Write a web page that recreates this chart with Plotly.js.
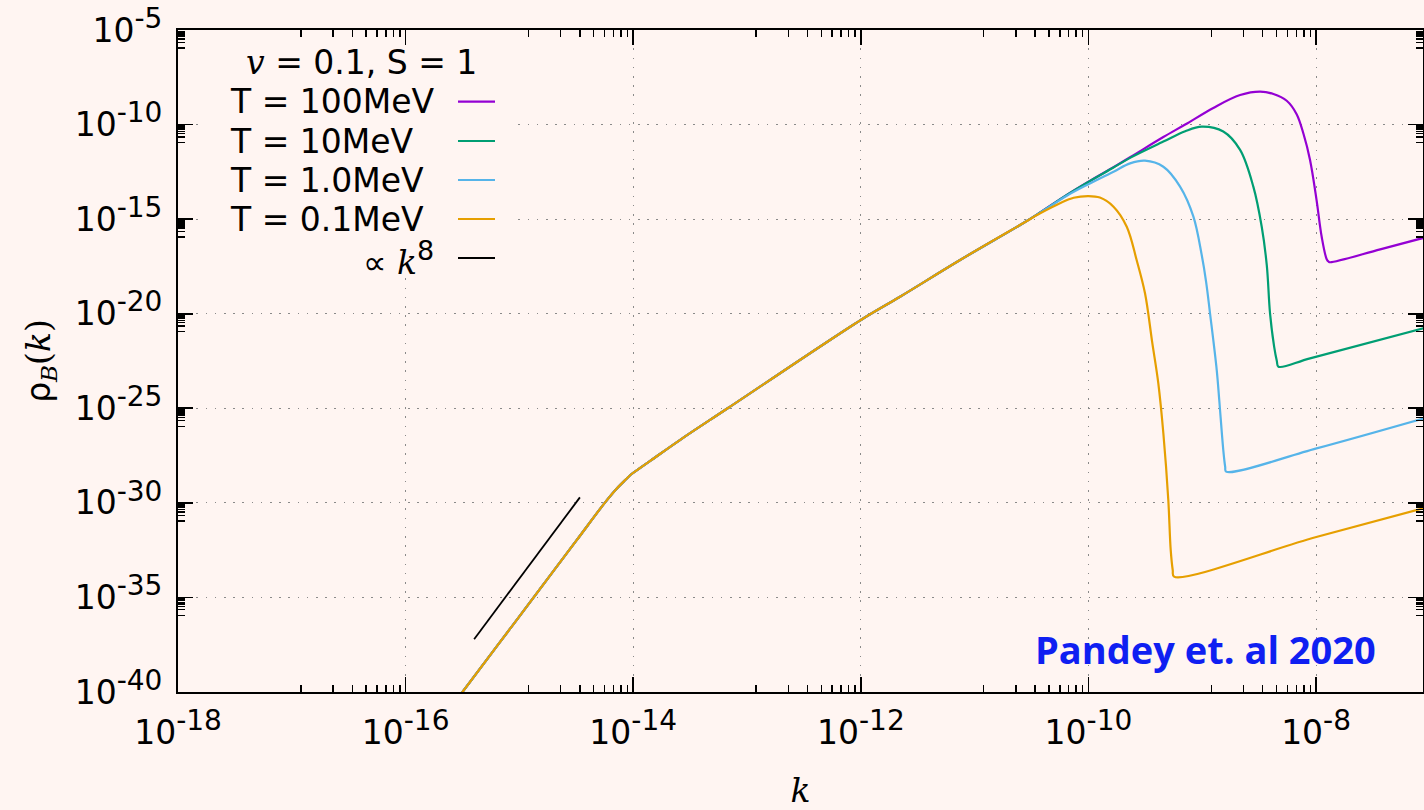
<!DOCTYPE html>
<html><head><meta charset="utf-8">
<script src="https://cdn.plot.ly/plotly-3.0.1.min.js"></script>
<style>html,body{margin:0;padding:0;background:#fff5f2;}</style>
</head><body><div id="chart" style="width:1424px;height:810px;"></div>
<script>
// shared low-k trunk (all four curves coincide here)
const kTrunk   = [2.51e-16, 3.16e-16, 1.0e-15, 3.16e-15, 5.62e-15, 7.08e-15, 8.32e-15, 9.55e-15, 1.12e-14, 1.41e-14, 2.57e-14, 6.76e-14, 1.0e-12, 2.21e-12, 7.45e-12, 2.66e-11];
const rhoTrunk = [1.58e-41, 1.0e-40, 1.0e-36, 1.0e-32, 1.0e-30, 5.25e-30, 1.41e-29, 3.16e-29, 6.31e-29, 1.66e-28, 2.09e-27, 1.0e-25, 4.68e-21, 7.94e-20, 6.92e-18, 6.03e-16];

// T = 100 MeV
const k100   = [3.80e-11, 6.46e-11, 1.0e-10, 1.66e-10, 2.32e-10, 4.55e-10, 7.08e-10, 1.25e-9, 2.15e-9, 3.22e-9, 4.22e-9, 5.52e-9, 6.75e-9, 7.76e-9, 8.85e-9, 1.01e-8, 1.12e-8, 1.24e-8, 1.29e-8, 1.33e-8, 3.66e-8, 1.0e-7];
const rho100 = [2.34e-15, 1.91e-14, 9.55e-14, 5.62e-13, 1.86e-12, 2.19e-11, 1.0e-10, 7.59e-10, 3.63e-9, 5.50e-9, 4.17e-9, 1.82e-9, 3.55e-10, 3.16e-11, 1.35e-12, 1.02e-14, 1.17e-16, 7.6e-18, 5.62e-18, 5.25e-18, 2.51e-17, 1.26e-16];

// T = 10 MeV
const k10   = [3.80e-11, 6.46e-11, 1.0e-10, 1.66e-10, 2.32e-10, 4.55e-10, 7.08e-10, 9.89e-10, 1.53e-9, 2.15e-9, 2.81e-9, 3.33e-9, 3.69e-9, 3.94e-9, 4.28e-9, 4.52e-9, 4.67e-9, 8.85e-9, 1.0e-7];
const rho10 = [2.34e-15, 1.91e-14, 9.33e-14, 5.37e-13, 1.74e-12, 1.26e-11, 4.47e-11, 7.76e-11, 4.27e-11, 4.57e-12, 5.25e-14, 3.98e-16, 3.55e-18, 1.05e-20, 1.82e-22, 3.16e-23, 1.58e-23, 4.37e-23, 2.09e-21];

// T = 1.0 MeV
const k1   = [3.80e-11, 6.46e-11, 1.0e-10, 1.66e-10, 2.32e-10, 3.14e-10, 4.55e-10, 6.38e-10, 8.36e-10, 9.89e-10, 1.08e-9, 1.17e-9, 1.34e-9, 1.41e-9, 1.53e-9, 1.59e-9, 1.62e-9, 1.01e-8, 1.0e-7];
const rho1 = [2.29e-15, 1.74e-14, 7.08e-14, 3.24e-13, 8.91e-13, 1.23e-12, 5.89e-13, 5.25e-14, 1.35e-15, 1.26e-17, 5.01e-19, 1.05e-20, 1.05e-23, 2.75e-25, 6.17e-28, 7.94e-29, 4.47e-29, 7.59e-28, 3.63e-26];

// T = 0.1 MeV
const k01   = [3.80e-11, 5.62e-11, 7.41e-11, 1.0e-10, 1.26e-10, 1.66e-10, 2.17e-10, 2.65e-10, 3.14e-10, 3.63e-10, 4.11e-10, 4.55e-10, 5.03e-10, 5.28e-10, 5.50e-10, 5.65e-10, 9.86e-9, 1.0e-7];
const rho01 = [2.09e-15, 6.92e-15, 1.35e-14, 1.66e-14, 1.38e-14, 4.57e-15, 3.98e-16, 6.92e-18, 1.20e-19, 3.16e-22, 2.09e-24, 4.79e-27, 1.41e-30, 3.24e-33, 2.82e-34, 1.26e-34, 1.51e-32, 6.46e-31];

// reference power law  ∝ k^8
const kRef   = [4.0e-16, 3.4e-15];
const rhoRef = [6.2e-38, 1.95e-30];

const seriesNames  = ['T = 100MeV', 'T = 10MeV', 'T = 1.0MeV', 'T = 0.1MeV'];
const seriesColors = ['#9400d3', '#009e73', '#56b4e9', '#e69f00'];
const refName = '∝ <span style="font-family:\'DejaVu Serif\'"><i>k</i></span><sup><span style="font-size:27px">8</span></sup>';
const legendTitle = '<span style="font-family:\'DejaVu Serif\'"><i>v</i></span> = 0.1, S = 1';
const creditText = '<b>Pandey et. al 2020</b>';

const xTickVals = [1e-18, 1e-16, 1e-14, 1e-12, 1e-10, 1e-8];
const xTickExp  = ['-18', '-16', '-14', '-12', '-10', '-8'];
const yTickVals = [1e-40, 1e-35, 1e-30, 1e-25, 1e-20, 1e-15, 1e-10, 1e-5];
const yTickExp  = ['-40', '-35', '-30', '-25', '-20', '-15', '-10', '-5'];

const supLabel = e => '10<sup><span style="font-size:28px">' + e + '</span></sup>';

// gnuplot-style minor tics: linear subdivisions between major tics
function minorBetween(majors) {
  const out = [];
  for (let i = 0; i + 1 < majors.length; i++) {
    const a = majors[i], b = majors[i + 1];
    for (let m = 1; m <= 8; m++) out.push(a + m * (b - a) / 9);
  }
  return out;
}

const tailsK = [k100, k10, k1, k01];
const tailsR = [rho100, rho10, rho1, rho01];
const traces = [];
for (let i = 0; i < 4; i++) {
  traces.push({
    x: kTrunk.concat(tailsK[i]), y: rhoTrunk.concat(tailsR[i]),
    type: 'scatter', mode: 'lines', name: seriesNames[i],
    line: {color: seriesColors[i], width: 2.2, shape: 'spline', smoothing: 1},
    showlegend: false, hoverinfo: 'skip'
  });
}
traces.push({x: kRef, y: rhoRef, type: 'scatter', mode: 'lines', name: 'k8',
  line: {color: '#000000', width: 1.8}, showlegend: false, hoverinfo: 'skip'});

const font = {family: 'DejaVu Sans', size: 33, color: '#000'};
const bg = '#fff5f2';
const PL = 178, PR = 1423, PT = 30, PB = 692;
const px = x => (x - PL) / (PR - PL);
const py = y => (PB - y) / (PB - PT);

const rowsY = [101.7, 141, 180, 219, 258];
const shapes = [{type: 'rect', xref: 'paper', yref: 'paper', x0: px(200), x1: px(515), y0: py(275), y1: py(46),
  fillcolor: bg, line: {width: 0}, layer: 'above'}];
const annotations = [{xref: 'paper', yref: 'paper', x: px(361), y: py(63), xanchor: 'center', yanchor: 'middle',
  text: legendTitle, showarrow: false, font: font}];
const legendColors = seriesColors.concat(['#000000']);
for (let i = 0; i < 5; i++) {
  shapes.push({type: 'line', xref: 'paper', yref: 'paper', x0: px(458), x1: px(495), y0: py(rowsY[i]), y1: py(rowsY[i]),
    line: {color: legendColors[i], width: i < 4 ? 2.2 : 1.8}, layer: 'above'});
  if (i < 4) {
    annotations.push({xref: 'paper', yref: 'paper', x: px(228), y: py(rowsY[i]), xanchor: 'left', yanchor: 'middle',
      text: seriesNames[i], showarrow: false, font: font});
  } else {
    annotations.push({xref: 'paper', yref: 'paper', x: px(436), y: py(rowsY[i]), xanchor: 'right', yanchor: 'middle',
      text: refName, showarrow: false, font: font});
  }
}
annotations.push({xref: 'paper', yref: 'paper', x: px(1033), y: py(649), xanchor: 'left', yanchor: 'middle',
  text: creditText, showarrow: false, font: {family: 'Open Sans', size: 38, color: '#0f1ff2'}});

const axisCommon = {
  type: 'log', showline: true, linecolor: '#000', linewidth: 2, mirror: 'ticks',
  ticks: 'inside', ticklen: 15, tickwidth: 1.6, tickcolor: '#000',
  showgrid: true, gridcolor: '#8a8a8a', gridwidth: 1, griddash: '1.6px,7.6px',
  zeroline: false, tickfont: font, tickmode: 'array'
};

const layout = {
  width: 1424, height: 810,
  margin: {l: PL, r: 1424 - PR, t: PT, b: 810 - PB},
  paper_bgcolor: bg, plot_bgcolor: bg,
  font: font,
  showlegend: false,
  xaxis: Object.assign({}, axisCommon, {
    range: [-18, Math.log10(8.7e-8)], ticklabelstandoff: 10,
    tickvals: xTickVals, ticktext: xTickExp.map(supLabel),
    minor: {tickvals: minorBetween(xTickVals), ticks: 'inside', ticklen: 7, tickwidth: 1.4, tickcolor: '#000', showgrid: false},
    title: {text: '<span style="font-family:\'DejaVu Serif\'"><i>k</i></span>', font: font, standoff: 32}
  }),
  yaxis: Object.assign({}, axisCommon, {
    range: [-40, -5], ticklabelstandoff: 7,
    tickvals: yTickVals, ticktext: yTickExp.map(supLabel),
    minor: {tickvals: minorBetween(yTickVals), ticks: 'inside', ticklen: 7, tickwidth: 1.4, tickcolor: '#000', showgrid: false},
    title: {text: 'ρ<sub><span style="font-family:\'DejaVu Serif\'"><i>B</i></span></sub><span style="font-family:\'DejaVu Serif\'">(<i>k</i>)</span>', font: font, standoff: 14}
  }),
  shapes: shapes,
  annotations: annotations
};

Plotly.newPlot('chart', traces, layout, {displayModeBar: false, staticPlot: true});
</script>
</body></html>
